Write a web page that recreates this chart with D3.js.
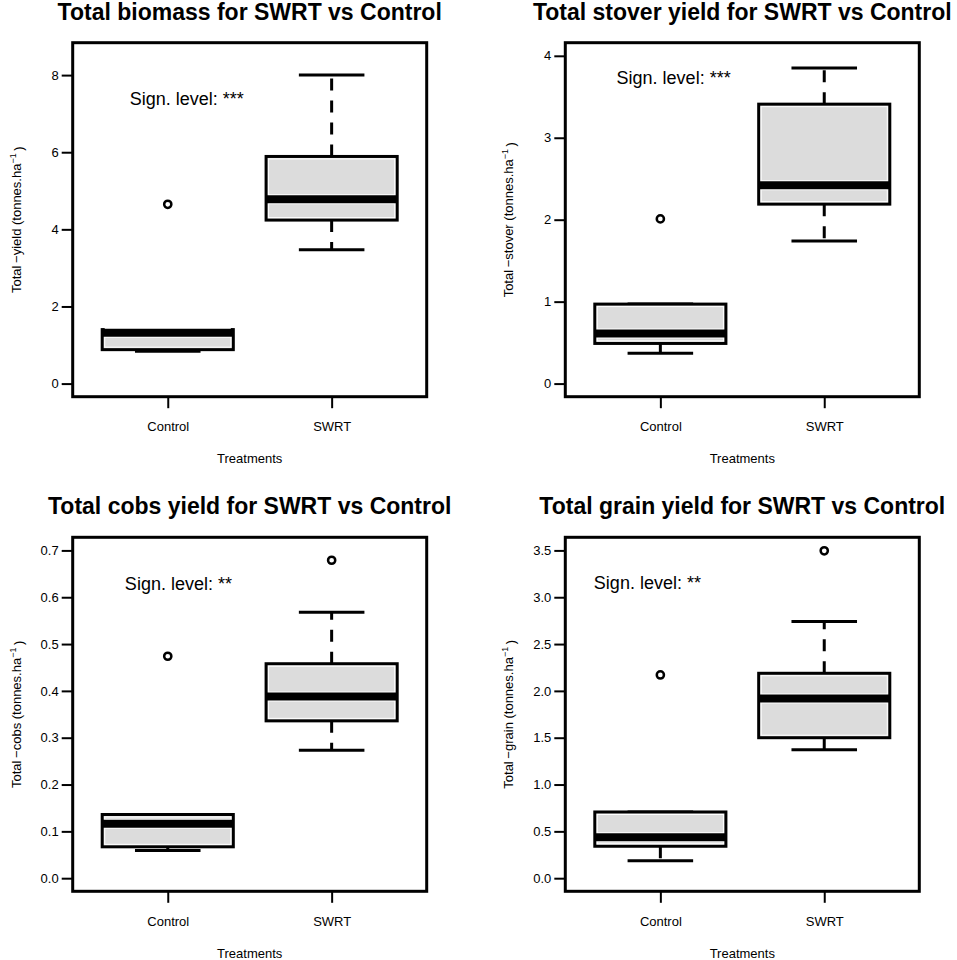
<!DOCTYPE html>
<html>
<head>
<meta charset="utf-8">
<script src="https://cdn.jsdelivr.net/npm/d3@7"></script>
<style>
    body { margin: 0; background: #fff; }
    svg { display: block; }
    text { font-family: "Liberation Sans", Arial, Helvetica, sans-serif; fill: #000; }
</style>
</head>
<body>
<div id="wrapper"></div>
<script>

// groups on the x axis
const groups = ['Control', 'SWRT'];

// box stats per group: [lower whisker, Q1, median, Q3, upper whisker]
const biomassStats = [[0.84, 0.88, 1.32, 1.40, 1.40], [3.47, 4.24, 4.78, 5.89, 8.00]];
const biomassOutliers = [[4.65], []];
const biomassTicks = [0, 2, 4, 6, 8];
const biomassYlim = [0, 8.5];

const stoverStats = [[0.37, 0.49, 0.61, 0.97, 0.97], [1.74, 2.19, 2.42, 3.41, 3.85]];
const stoverOutliers = [[2.01], []];
const stoverTicks = [0, 1, 2, 3, 4];
const stoverYlim = [0, 4];

const cobsStats = [[0.059, 0.067, 0.116, 0.136, 0.136], [0.273, 0.336, 0.388, 0.458, 0.568]];
const cobsOutliers = [[0.474], [0.679]];
const cobsTicks = [0, 0.1, 0.2, 0.3, 0.4, 0.5, 0.6, 0.7];
const cobsYlim = [0, 0.7];

const grainStats = [[0.187, 0.341, 0.438, 0.707, 0.707], [1.371, 1.50, 1.919, 2.188, 2.74]];
const grainOutliers = [[2.17], [3.496]];
const grainTicks = [0, 0.5, 1.0, 1.5, 2.0, 2.5, 3.0, 3.5];
const grainYlim = [0, 3.5];

const panels = [
    {
        title: 'Total biomass for SWRT vs Control', yName: 'yield', sign: 'Sign. level: ***',
        stats: biomassStats, outliers: biomassOutliers, ticks: biomassTicks, ylim: biomassYlim,
        format: d3.format('d'), left: 72.7, top: 42.7, signAt: [1.116, 7.39]
    },
    {
        title: 'Total stover yield for SWRT vs Control', yName: 'stover', sign: 'Sign. level: ***',
        stats: stoverStats, outliers: stoverOutliers, ticks: stoverTicks, ylim: stoverYlim,
        format: d3.format('d'), left: 565.3, top: 42.7, signAt: [1.081, 3.73]
    },
    {
        title: 'Total cobs yield for SWRT vs Control', yName: 'cobs', sign: 'Sign. level: **',
        stats: cobsStats, outliers: cobsOutliers, ticks: cobsTicks, ylim: cobsYlim,
        format: d3.format('.1f'), left: 72.7, top: 537.3, signAt: [1.065, 0.628]
    },
    {
        title: 'Total grain yield for SWRT vs Control', yName: 'grain', sign: 'Sign. level: **',
        stats: grainStats, outliers: grainOutliers, ticks: grainTicks, ylim: grainYlim,
        format: d3.format('.1f'), left: 565.3, top: 537.3, signAt: [0.921, 3.15]
    }
];

const dimensions = {
    width: 957,
    height: 960,
    plotSize: 354
};

const wrapper = d3.select('#wrapper')
    .append('svg')
    .attr('width', dimensions.width)
    .attr('height', dimensions.height);

panels.forEach(drawPanel);

function drawPanel(panel) {
    const size = dimensions.plotSize;

    const bounds = wrapper.append('g')
        .attr('transform', `translate(${panel.left},${panel.top})`);

    // R style 4% axis extension
    const xScale = d3.scaleLinear()
        .domain([0.42, 2.58])
        .range([0, size]);

    const pad = (panel.ylim[1] - panel.ylim[0]) * 0.04;
    const yScale = d3.scaleLinear()
        .domain([panel.ylim[0] - pad, panel.ylim[1] + pad])
        .range([size, 0]);

    const halfBox = xScale(1.4) - xScale(1);
    const halfCap = xScale(1.2) - xScale(1);

    const boxes = bounds.selectAll('.box')
        .data(panel.stats)
        .enter()
        .append('g')
        .attr('class', 'box')
        .attr('transform', (d, i) => `translate(${xScale(i + 1)},0)`);

    // whiskers
    boxes.append('line')
        .attr('y1', d => yScale(d[3]))
        .attr('y2', d => yScale(d[4]))
        .attr('stroke', '#000')
        .attr('stroke-width', 3)
        .attr('stroke-dasharray', '12,10');

    boxes.append('line')
        .attr('y1', d => yScale(d[1]))
        .attr('y2', d => yScale(d[0]))
        .attr('stroke', '#000')
        .attr('stroke-width', 3)
        .attr('stroke-dasharray', '12,10');

    // staples
    [0, 4].forEach(k => {
        boxes.append('line')
            .attr('x1', -halfCap)
            .attr('x2', halfCap)
            .attr('y1', d => yScale(d[k]))
            .attr('y2', d => yScale(d[k]))
            .attr('stroke', '#000')
            .attr('stroke-width', 3);
    });

    // box
    boxes.append('rect')
        .attr('x', -halfBox)
        .attr('width', halfBox * 2)
        .attr('y', d => yScale(d[3]))
        .attr('height', d => yScale(d[1]) - yScale(d[3]))
        .attr('fill', '#dcdcdc')
        .attr('stroke', '#000')
        .attr('stroke-width', 3);

    boxes.append('rect')
        .attr('x', -halfBox + 2.5)
        .attr('width', halfBox * 2 - 5)
        .attr('y', d => yScale(d[3]) + 2.5)
        .attr('height', d => Math.max(0, yScale(d[1]) - yScale(d[3]) - 5))
        .attr('fill', 'none')
        .attr('stroke', '#fff')
        .attr('stroke-width', 1);

    // median
    boxes.append('line')
        .attr('x1', -halfBox + 2.5)
        .attr('x2', halfBox - 2.5)
        .attr('y1', d => yScale(d[2]))
        .attr('y2', d => yScale(d[2]))
        .attr('stroke', '#fff')
        .attr('stroke-width', 10);

    boxes.append('line')
        .attr('x1', -halfBox)
        .attr('x2', halfBox)
        .attr('y1', d => yScale(d[2]))
        .attr('y2', d => yScale(d[2]))
        .attr('stroke', '#000')
        .attr('stroke-width', 8);

    // outliers
    panel.outliers.forEach((values, i) => {
        bounds.selectAll(null)
            .data(values)
            .enter()
            .append('circle')
            .attr('cx', xScale(i + 1))
            .attr('cy', d => yScale(d))
            .attr('r', 3.6)
            .attr('fill', '#fff')
            .attr('stroke', '#000')
            .attr('stroke-width', 2.5);
    });

    // frame
    bounds.append('rect')
        .attr('width', size)
        .attr('height', size)
        .attr('fill', 'none')
        .attr('stroke', '#000')
        .attr('stroke-width', 3);

    const yAxisGenerator = d3.axisLeft()
        .scale(yScale)
        .tickValues(panel.ticks)
        .tickFormat(panel.format)
        .tickSize(11)
        .tickPadding(3);

    const yAxis = bounds.append('g')
        .call(yAxisGenerator);
    yAxis.select('.domain').remove();
    yAxis.selectAll('.tick line').attr('stroke-width', 2);
    yAxis.selectAll('.tick text')
        .style('font-size', '13px')
        .attr('fill', '#000');

    const xAxisGenerator = d3.axisBottom()
        .scale(xScale)
        .tickValues([1, 2])
        .tickFormat(d => groups[d - 1])
        .tickSize(11.5)
        .tickPadding(14);

    const xAxis = bounds.append('g')
        .attr('transform', `translate(0,${size})`)
        .call(xAxisGenerator);
    xAxis.select('.domain').remove();
    xAxis.selectAll('.tick line').attr('stroke-width', 2);
    xAxis.selectAll('.tick text')
        .style('font-size', '13px')
        .attr('fill', '#000');

    bounds.append('text')
        .attr('x', size / 2)
        .attr('y', size + 62)
        .attr('dy', '0.35em')
        .attr('text-anchor', 'middle')
        .style('font-size', '13px')
        .text('Treatments');

    const yLabel = bounds.append('text')
        .attr('transform', `translate(-56.7,${size / 2}) rotate(-90)`)
        .attr('dy', '0.35em')
        .attr('text-anchor', 'middle')
        .style('font-size', '13px');
    yLabel.append('tspan').text(`Total\u2009\u2212${panel.yName} (tonnes.ha`);
    yLabel.append('tspan')
        .attr('dy', '-0.55em')
        .style('font-size', '9px')
        .text('\u22121');
    yLabel.append('tspan')
        .attr('dy', '0.55em')
        .text('\u2009)');

    bounds.append('text')
        .attr('x', size / 2)
        .attr('y', -23)
        .attr('text-anchor', 'middle')
        .style('font-size', '23px')
        .style('font-weight', 'bold')
        .text(panel.title);

    bounds.append('text')
        .attr('x', xScale(panel.signAt[0]))
        .attr('y', yScale(panel.signAt[1]))
        .attr('dy', '0.35em')
        .attr('text-anchor', 'middle')
        .style('font-size', '18px')
        .text(panel.sign);
}
</script>
</body>
</html>
